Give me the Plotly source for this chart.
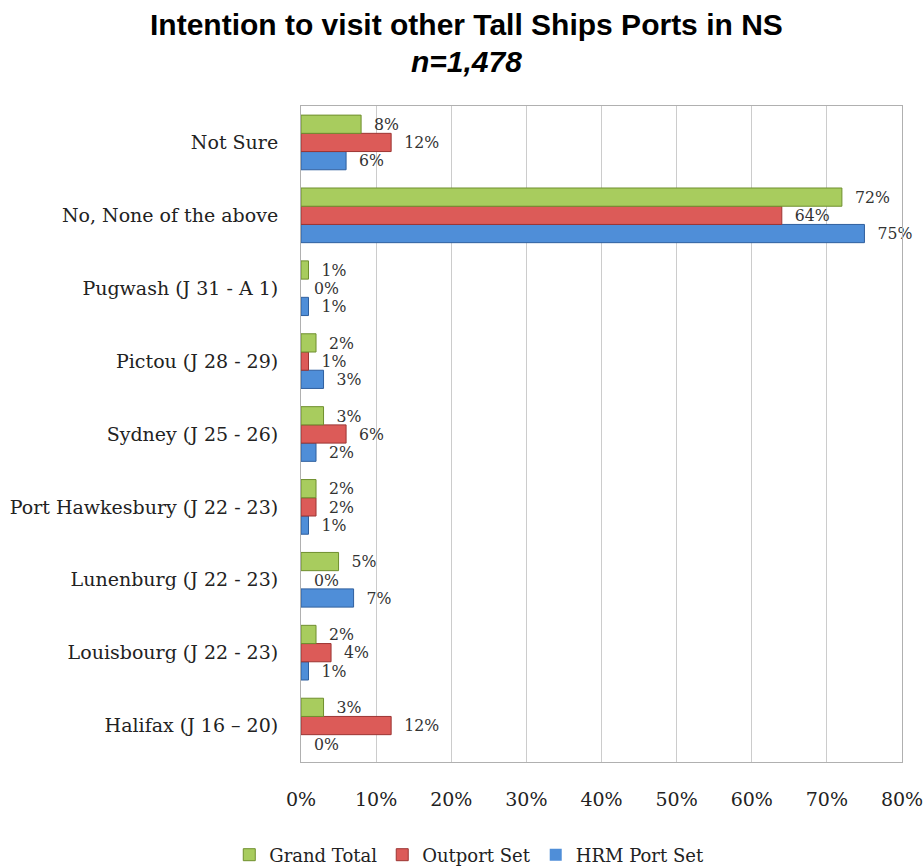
import plotly.graph_objects as go

categories = [
    "Halifax (J 16 \u2013 20)",
    "Louisbourg (J 22 - 23)",
    "Lunenburg (J 22 - 23)",
    "Port Hawkesbury (J 22 - 23)",
    "Sydney (J 25 - 26)",
    "Pictou (J 28 - 29)",
    "Pugwash (J 31 - A 1)",
    "No, None of the above",
    "Not Sure",
]
grand_total = [3, 2, 5, 2, 3, 2, 1, 72, 8]
outport_set = [12, 4, 0, 2, 6, 1, 0, 64, 12]
hrm_port_set = [0, 1, 7, 1, 2, 3, 1, 75, 6]
x_ticks = [0, 10, 20, 30, 40, 50, 60, 70, 80]

serif = "DejaVu Serif, Liberation Serif, serif"
sans = "Liberation Sans, Arial, sans-serif"

fig = go.Figure()

# plotly stacks horizontal groups bottom-up, so add the bottom bar first
series = [
    ("HRM Port Set", hrm_port_set, "#4f8ed8", "#2f5f9e"),
    ("Outport Set", outport_set, "#dc5b58", "#9c3533"),
    ("Grand Total", grand_total, "#a8cc5e", "#6f8f2e"),
]
for name, vals, color, edge in series:
    fig.add_trace(
        go.Bar(
            y=categories,
            x=vals,
            orientation="h",
            name=name,
            marker=dict(color=color, line=dict(color=edge, width=[1 if v else 0 for v in vals])),
            text=[f"\u00a0\u00a0{v}%" for v in vals],
            textposition="outside",
            textfont=dict(family=serif, size=19, color="#333333"),
            cliponaxis=False,
        )
    )

fig.update_layout(
    width=923,
    height=867,
    paper_bgcolor="white",
    plot_bgcolor="white",
    barmode="group",
    bargap=0.25,
    bargroupgap=0,
    margin=dict(l=301, r=21, t=106, b=105, autoexpand=False),
    xaxis=dict(
        range=[0, 80],
        tickvals=x_ticks,
        ticktext=[f"{t}%" for t in x_ticks],
        showgrid=True,
        gridcolor="#cccccc",
        gridwidth=1,
        zeroline=False,
        showline=True,
        linecolor="#b0b0b0",
        mirror=True,
        ticks="",
        ticklabelstandoff=20,
        ticklabeloverflow="allow",
        tickfont=dict(family=serif, size=19, color="#222222"),
    ),
    yaxis=dict(
        showgrid=False,
        showline=True,
        linecolor="#b0b0b0",
        mirror=True,
        ticks="",
        ticklabelstandoff=18,
        tickfont=dict(family=serif, size=19, color="#222222"),
    ),
    showlegend=True,
    legend=dict(
        orientation="h",
        traceorder="reversed",
        x=0.28,
        xanchor="center",
        y=-(855 - 762) / 656,
        yanchor="middle",
        font=dict(family=serif, size=18, color="#222222"),
    ),
    annotations=[
        dict(
            text="<b>Intention to visit other Tall Ships Ports in NS</b>",
            xref="paper", yref="paper",
            x=0.275, y=1.0 + (106 - 25) / 656,
            xanchor="center", yanchor="middle",
            showarrow=False,
            font=dict(family=sans, size=30, color="black"),
        ),
        dict(
            text="<b><i>n=1,478</i></b>",
            xref="paper", yref="paper",
            x=0.275, y=1.0 + (106 - 62) / 656,
            xanchor="center", yanchor="middle",
            showarrow=False,
            font=dict(family=sans, size=30, color="black"),
        ),
    ],
)

# drop the default 8px page margin so the figure fills the window
fig.write_html(
    "out.html",
    config={"displayModeBar": False},
    post_script="document.body.style.margin = '0';",
)
